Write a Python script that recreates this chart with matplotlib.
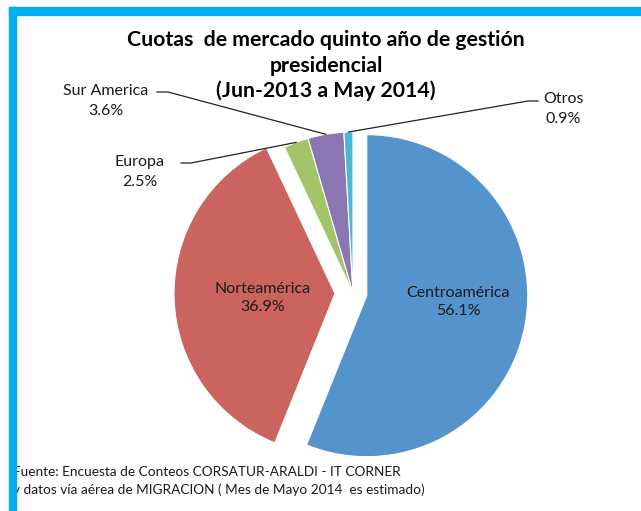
import numpy as np
import matplotlib.pyplot as plt
from matplotlib.patches import Rectangle

# data
regions = ["Centroamérica", "Norteamérica", "Europa", "Sur America", "Otros"]
shares = [56.1, 36.9, 2.5, 3.6, 0.9]
colors = ["#5593CC", "#CB645E", "#A4C46A", "#8B76B3", "#4DB8D3"]
explode_px = [14, 18, 0, 0, 0]

title_lines = ["Cuotas  de mercado quinto año de gestión",
               "presidencial",
               "(Jun-2013 a May 2014)"]
source = ("Fuente: Encuesta de Conteos CORSATUR-ARALDI - IT CORNER\n"
          "y datos vía aérea de MIGRACION ( Mes de Mayo 2014  es estimado)")

W, H = 641, 511
plt.rcParams['font.family'] = ["Lato", "DejaVu Sans"]

fig = plt.figure(figsize=(W / 100, H / 100), dpi=100)

cx, cy, R = 353, 293, 161

# pie axes (y pointing up)
pax = fig.add_axes([0, 0, 1, 1])
wedges, _ = pax.pie(shares, colors=colors, startangle=90, counterclock=False,
                    center=(cx, H - cy), radius=R, explode=explode_px,
                    wedgeprops=dict(edgecolor='white', linewidth=0.8))
pax.set_xlim(0, W)
pax.set_ylim(0, H)
pax.axis('off')

# overlay axes for text, pixel coords from top-left
ax = fig.add_axes([0, 0, 1, 1])
ax.set_xlim(0, W)
ax.set_ylim(H, 0)
ax.axis('off')

# inside labels
inner = {0: (458, 302), 1: (263, 298)}
for i, (x, y) in inner.items():
    ax.text(x, y, f"{regions[i]}\n{shares[i]}%", ha='center', va='center',
            fontsize=11.5, color='#1a1a1a', linespacing=1.45)

# outside labels with leader lines: label pos, line start, knee
outer = {
    3: ((106, 101), (157, 92), (168, 92)),
    2: ((140, 172), (181, 163), (191, 163)),
    4: ((563, 109), (538, 101), (528, 101)),
}
for i, ((lx, ly), (sx, sy), (kx, ky)) in outer.items():
    ax.text(lx, ly, f"{regions[i]}\n{shares[i]}%", ha='center', va='center',
            fontsize=11.5, color='#1a1a1a', linespacing=1.5)
    w = wedges[i]
    mid = np.deg2rad((w.theta1 + w.theta2) / 2)
    ex = cx + R * np.cos(mid)
    ey = cy - R * np.sin(mid)
    ax.plot([sx, kx, ex], [sy, ky, ey], color='#222222', lw=0.9)

for line, y in zip(title_lines, [40, 66, 91]):
    ax.text(326, y, line, ha='center', va='center', fontsize=15.3,
            fontweight='bold', color='black')

ax.text(13, 481, source, ha='left', va='center', fontsize=9.8,
        color='#1a1a1a', linespacing=1.6)

# cyan frame
ax.add_patch(Rectangle((9, 7), 7, H, color='#00AEEF', zorder=5))
ax.add_patch(Rectangle((9, 7), W, 8, color='#00AEEF', zorder=5))

fig.savefig("out.png", dpi=100)
